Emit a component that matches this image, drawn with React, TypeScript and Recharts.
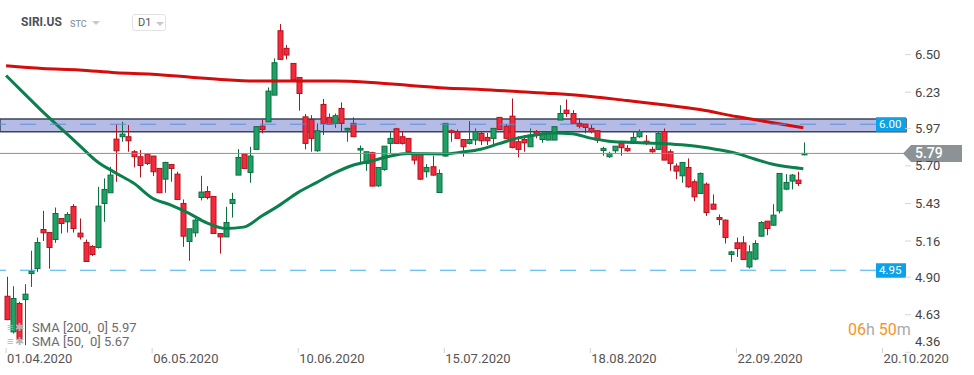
import * as React from "react";
import {
    ComposedChart,
    Bar,
    Line,
    XAxis,
    YAxis,
    ReferenceLine,
    ReferenceArea,
} from "recharts";

// daily candles, 01.04.2020 onwards (index 0 = 01.04.2020)
const opens = [
    4.763, 4.507, 4.711, 4.739, 4.926, 4.962, 5.243, 5.221, 5.171, 5.322,
    5.298, 5.408, 5.217, 5.149, 5.121, 5.114, 5.43, 5.507, 5.893, 5.91,
    5.91, 5.802, 5.766, 5.785, 5.771, 5.682, 5.605, 5.71, 5.641, 5.43,
    5.157, 5.219, 5.473, 5.516, 5.48, 5.214, 5.19, 5.43, 5.634, 5.785,
    5.653, 5.819, 5.986, 6.017, 6.209, 6.672, 6.545, 6.437, 6.336, 6.053,
    6.034, 5.809, 6.142, 6.049, 6.006, 6.113, 5.958, 6.006, 5.814, 5.718,
    5.795, 5.557, 5.675, 5.862, 5.967, 5.91, 5.898, 5.79, 5.79, 5.658,
    5.694, 5.509, 5.771, 5.953, 5.946, 5.89, 5.862, 5.886, 5.934, 5.905,
    5.898, 6.049, 5.986, 6.058, 5.874, 5.89, 5.838, 5.946, 5.89, 5.886,
    5.886, 6.03, 6.101, 6.077, 6.006, 6.001, 5.97, 5.953, 5.811, 5.766,
    5.809, 5.866, 5.826, 5.862, 5.91, 5.878, 5.819, 5.819, 5.946, 5.802,
    5.699, 5.629, 5.689, 5.586, 5.502, 5.569, 5.425, 5.329, 5.31, 5.063,
    5.147, 5.147, 4.974, 5.03, 5.195, 5.303, 5.274, 5.377, 5.533, 5.591,
    5.598, 5.78,
];
const closes = [
    4.595, 4.747, 4.459, 4.778, 4.943, 5.149, 5.219, 5.114, 5.358, 5.286,
    5.351, 5.25, 5.19, 5.013, 5.063, 5.411, 5.531, 5.634, 5.809, 5.929,
    5.881, 5.766, 5.703, 5.718, 5.658, 5.507, 5.725, 5.682, 5.459, 5.195,
    5.248, 5.31, 5.512, 5.473, 5.214, 5.19, 5.293, 5.459, 5.761, 5.682,
    5.771, 5.982, 5.962, 6.238, 6.442, 6.466, 6.497, 6.317, 6.221, 5.862,
    5.898, 5.953, 6.006, 5.998, 6.061, 6.006, 5.97, 5.91, 5.826, 5.802,
    5.555, 5.689, 5.842, 5.898, 5.862, 5.862, 5.802, 5.742, 5.605, 5.689,
    5.634, 5.646, 6.006, 5.941, 5.898, 5.838, 5.89, 5.946, 5.881, 5.881,
    5.97, 5.962, 5.898, 5.833, 5.819, 5.866, 5.922, 5.922, 5.934, 5.934,
    5.982, 6.077, 6.077, 6.006, 5.986, 5.977, 5.946, 5.886, 5.826, 5.79,
    5.842, 5.831, 5.809, 5.905, 5.946, 5.869, 5.802, 5.934, 5.742, 5.718,
    5.663, 5.725, 5.55, 5.478, 5.646, 5.365, 5.389, 5.315, 5.185, 5.082,
    5.106, 5.027, 5.082, 5.142, 5.293, 5.25, 5.346, 5.646, 5.581, 5.634,
    5.574, 5.79,
];
const highs = [
    4.903, 4.835, 4.723, 4.85, 5.09, 5.185, 5.377, 5.221, 5.401, 5.322,
    5.368, 5.425, 5.322, 5.171, 5.13, 5.55, 5.61, 5.694, 6.001, 6.018,
    5.994, 5.814, 5.814, 5.785, 5.771, 5.682, 5.73, 5.71, 5.658, 5.459,
    5.248, 5.322, 5.629, 5.555, 5.48, 5.214, 5.406, 5.507, 5.821, 5.785,
    5.838, 5.986, 6.034, 6.264, 6.473, 6.72, 6.569, 6.437, 6.336, 6.073,
    6.065, 6.006, 6.181, 6.077, 6.077, 6.157, 5.974, 6.049, 5.847, 5.802,
    5.802, 5.689, 5.842, 5.946, 5.974, 5.946, 5.898, 5.79, 5.79, 5.713,
    5.773, 5.675, 6.006, 5.962, 5.962, 5.89, 6.022, 5.97, 5.946, 5.938,
    5.97, 6.049, 6.001, 6.185, 5.914, 5.922, 5.97, 5.958, 5.946, 5.938,
    5.986, 6.137, 6.178, 6.101, 6.042, 6.001, 5.994, 5.958, 5.838, 5.802,
    5.842, 5.866, 5.85, 5.946, 5.962, 5.922, 5.838, 5.946, 5.97, 5.819,
    5.718, 5.725, 5.754, 5.603, 5.653, 5.581, 5.495, 5.351, 5.315, 5.09,
    5.185, 5.195, 5.13, 5.166, 5.303, 5.303, 5.425, 5.646, 5.641, 5.641,
    5.658, 5.869,
];
const lows = [
    4.591, 4.495, 4.435, 4.411, 4.83, 4.938, 5.161, 4.962, 5.147, 5.214,
    5.221, 5.221, 5.171, 5.01, 5.053, 5.106, 5.298, 5.507, 5.586, 5.874,
    5.802, 5.689, 5.617, 5.706, 5.627, 5.507, 5.507, 5.586, 5.459, 5.118,
    5.018, 5.19, 5.452, 5.459, 5.214, 5.07, 5.19, 5.329, 5.634, 5.682,
    5.579, 5.819, 5.934, 6.017, 6.209, 6.466, 6.466, 6.317, 6.097, 5.819,
    5.802, 5.802, 5.922, 5.998, 5.974, 5.95, 5.874, 5.91, 5.718, 5.665,
    5.555, 5.55, 5.665, 5.79, 5.862, 5.854, 5.802, 5.711, 5.598, 5.617,
    5.629, 5.509, 5.766, 5.874, 5.898, 5.766, 5.854, 5.85, 5.85, 5.85,
    5.854, 5.962, 5.898, 5.826, 5.761, 5.802, 5.838, 5.898, 5.866, 5.886,
    5.886, 6.03, 6.053, 6.006, 5.97, 5.934, 5.934, 5.866, 5.773, 5.758,
    5.79, 5.773, 5.802, 5.862, 5.902, 5.85, 5.795, 5.819, 5.742, 5.665,
    5.605, 5.579, 5.543, 5.447, 5.502, 5.341, 5.389, 5.274, 5.142, 5.01,
    5.046, 5.027, 4.962, 5.022, 5.19, 5.202, 5.269, 5.358, 5.526, 5.531,
    5.555, 5.775,
];

// moving averages read at selected candles: [index, value]
const sma200Points = [
    [0, 6.42], [6, 6.4], [12, 6.39], [18, 6.37], [24, 6.36], [30, 6.34],
    [36, 6.32], [42, 6.31], [48, 6.31], [54, 6.31], [60, 6.3], [66, 6.28],
    [72, 6.26], [78, 6.25], [84, 6.235], [90, 6.22], [96, 6.2], [102, 6.17],
    [108, 6.14], [114, 6.105], [120, 6.055], [126, 6.01], [131, 5.974],
];
const sma50Points = [
    [0, 6.35], [3, 6.22], [6, 6.09], [9, 5.97], [12, 5.85], [15, 5.73],
    [18, 5.65], [21, 5.575], [24, 5.47], [27, 5.42], [30, 5.36], [33, 5.29],
    [36, 5.25], [39, 5.26], [42, 5.34], [45, 5.42], [48, 5.51], [51, 5.58],
    [54, 5.65], [57, 5.705], [60, 5.735], [63, 5.77], [66, 5.79], [69, 5.787],
    [72, 5.786], [75, 5.8], [78, 5.82], [81, 5.86], [84, 5.9], [87, 5.922],
    [90, 5.936], [93, 5.932], [96, 5.9], [99, 5.878], [102, 5.87], [105, 5.865],
    [108, 5.862], [111, 5.852], [114, 5.838], [117, 5.817], [120, 5.79],
    [123, 5.75], [126, 5.712], [129, 5.69], [131, 5.68],
];

const xTickIdx = [0, 24, 48, 72, 96, 120, 144];
const xTickLabels = [
    "01.04.2020",
    "06.05.2020",
    "10.06.2020",
    "15.07.2020",
    "18.08.2020",
    "22.09.2020",
    "20.10.2020",
];
const yTicks = [6.5, 6.23, 5.97, 5.7, 5.43, 5.16, 4.9, 4.63, 4.36];

const resistance = 6.0;
const resistanceZone = [5.945, 6.037];
const support = 4.95;
const lastPrice = closes[closes.length - 1];

const data = opens.map((o, i) => ({
    i,
    open: o,
    close: closes[i],
    high: highs[i],
    low: lows[i],
    range: [lows[i], highs[i]],
}));
const sma200Data = sma200Points.map(([i, v]) => ({ i, v }));
const sma50Data = sma50Points.map(([i, v]) => ({ i, v }));

const UP_FILL = "#1fa166";
const UP_STROKE = "#0d6e40";
const DOWN_FILL = "#f22a3c";
const DOWN_STROKE = "#b3121f";

function Candle(props: any) {
    const { x, y, width, height, payload } = props;
    if (!payload || height == null) return null;
    const { open, close, high, low } = payload;
    const top = Math.min(y, y + height);
    const h = Math.abs(height);
    const k = high - low > 0 ? h / (high - low) : 0;
    const py = (v: number) => top + (high - v) * k;
    const up = close >= open;
    const cx = Math.round(x + width / 2) + 0.5;
    const bTop = py(Math.max(open, close));
    const bH = Math.max(1, py(Math.min(open, close)) - bTop);
    const stroke = up ? UP_STROKE : DOWN_STROKE;
    return (
        <g>
            <line x1={cx} x2={cx} y1={top} y2={top + h} stroke={stroke} strokeWidth={1} />
            <rect
                x={cx - 2.5}
                y={bTop}
                width={5}
                height={bH}
                fill={up ? UP_FILL : DOWN_FILL}
                stroke={stroke}
                strokeWidth={1}
            />
        </g>
    );
}

function XTick(props: any) {
    const { x, y, payload } = props;
    const idx = xTickIdx.indexOf(payload.value);
    return (
        <g>
            <line x1={x} x2={x} y1={y - 5} y2={y} stroke="#d0d0d0" />
            <text x={x + 1} y={y + 10} fontSize={13} fill="#555" textAnchor="start">
                {xTickLabels[idx]}
            </text>
        </g>
    );
}

function YTick(props: any) {
    const { x, y, payload } = props;
    return (
        <g>
            <line x1={x - 1} x2={x + 5} y1={y} y2={y} stroke="#d6d6d6" />
            <text x={x + 9} y={Math.min(y, 341) + 4.5} fontSize={13} fill="#444">
                {payload.value.toFixed(2)}
            </text>
        </g>
    );
}

function LevelTag(props: any) {
    const { viewBox, text } = props;
    if (!viewBox) return null;
    const right = viewBox.x + viewBox.width;
    return (
        <g>
            <rect x={right - 30} y={viewBox.y - 7} width={30} height={14.5} fill="#0aa3ea" />
            <text
                x={right - 27}
                y={viewBox.y + 4}
                fontSize={11.5}
                fill="#fff"
                textAnchor="start"
            >
                {text}
            </text>
        </g>
    );
}

function PriceTag(props: any) {
    const { viewBox, text } = props;
    if (!viewBox) return null;
    const left = viewBox.x + viewBox.width - 3;
    const y = viewBox.y;
    const pts = `${left},${y} ${left + 8},${y - 8.5} ${left + 59},${y - 8.5} ${left + 59},${y + 8.5} ${left + 8},${y + 8.5}`;
    return (
        <g>
            <polygon points={pts} fill="#8b9397" />
            <text x={left + 12} y={y + 5} fontSize={14} fontWeight={500} fill="#fff">
                {text}
            </text>
        </g>
    );
}

function Caret({ left, top }: { left: number; top: number }) {
    return (
        <div
            style={{
                position: "absolute",
                left,
                top,
                width: 0,
                height: 0,
                borderLeft: "4px solid transparent",
                borderRight: "4px solid transparent",
                borderTop: "4px solid #c8c8c8",
            }}
        />
    );
}

export default function App() {
    return (
        <div
            style={{
                position: "absolute",
                left: 0,
                top: 0,
                width: 974,
                height: 375,
                background: "#fff",
                fontFamily: "Roboto, sans-serif",
                overflow: "hidden",
            }}
        >
            <ComposedChart
                width={974}
                height={375}
                data={data}
                margin={{ top: 0, right: 0, bottom: 0, left: 0 }}
                style={{ fontFamily: "Roboto, sans-serif" }}
            >
                <XAxis
                    type="number"
                    dataKey="i"
                    domain={[-1, 147.87]}
                    ticks={xTickIdx}
                    interval={0}
                    allowDataOverflow
                    height={22}
                    tickSize={0}
                    tickMargin={0}
                    tickLine={false}
                    axisLine={false}
                    tick={(p: any) => <XTick {...p} />}
                />
                <YAxis
                    orientation="right"
                    domain={[4.355, 6.893]}
                    ticks={yTicks}
                    interval={0}
                    allowDataOverflow
                    width={68}
                    tickSize={0}
                    tickMargin={0}
                    tickLine={false}
                    axisLine={false}
                    tick={(p: any) => <YTick {...p} />}
                />
                <ReferenceLine
                    y={support}
                    stroke="#3fb0ec"
                    strokeWidth={1}
                    strokeDasharray="16 14"
                    label={<LevelTag text={support.toFixed(2)} />}
                />
                <Bar
                    dataKey="range"
                    barSize={5}
                    shape={(p: any) => <Candle {...p} />}
                    isAnimationActive={false}
                />
                <Line
                    data={sma200Data}
                    dataKey="v"
                    type="monotone"
                    stroke="#d40c0c"
                    strokeWidth={3}
                    dot={false}
                    activeDot={false}
                    isAnimationActive={false}
                />
                <Line
                    data={sma50Data}
                    dataKey="v"
                    type="monotone"
                    stroke="#0b7f4c"
                    strokeWidth={3}
                    dot={false}
                    activeDot={false}
                    isAnimationActive={false}
                />
                <ReferenceArea
                    y1={resistanceZone[0]}
                    y2={resistanceZone[1]}
                    fill="rgb(110,120,205)"
                    fillOpacity={0.5}
                    stroke="#3a4658"
                    strokeWidth={1.5}
                />
                <ReferenceLine
                    y={resistance}
                    stroke="#5b8fd8"
                    strokeWidth={1}
                    strokeDasharray="16 14"
                    label={<LevelTag text={resistance.toFixed(2)} />}
                />
                <ReferenceLine
                    y={lastPrice}
                    stroke="#909090"
                    strokeWidth={1}
                    label={<PriceTag text={lastPrice.toFixed(2)} />}
                />
            </ComposedChart>

            {/* header */}
            <div
                style={{
                    position: "absolute",
                    left: 21,
                    top: 15,
                    fontSize: 12,
                    fontWeight: 700,
                    color: "#4b5158",
                }}
            >
                SIRI.US
            </div>
            <div
                style={{
                    position: "absolute",
                    left: 70,
                    top: 19,
                    fontSize: 9,
                    fontWeight: 500,
                    color: "#8d9aa8",
                }}
            >
                STC
            </div>
            <Caret left={92} top={21} />
            <div
                style={{
                    position: "absolute",
                    left: 132,
                    top: 14,
                    width: 34,
                    height: 17,
                    border: "1px solid #e2e2e2",
                    borderRadius: 3,
                    boxSizing: "border-box",
                }}
            />
            <div
                style={{
                    position: "absolute",
                    left: 138,
                    top: 16,
                    fontSize: 11,
                    color: "#555",
                }}
            >
                D1
            </div>
            <Caret left={156} top={22} />

            {/* legend */}
            {[
                { label: "SMA [200,  0] 5.97", top: 320 },
                { label: "SMA [50,  0] 5.67", top: 334 },
            ].map((r) => (
                <div
                    key={r.label}
                    style={{
                        position: "absolute",
                        left: 7,
                        top: r.top,
                        fontSize: 13,
                        lineHeight: "16px",
                        color: "#6b6b6b",
                        whiteSpace: "pre",
                        display: "flex",
                        alignItems: "center",
                    }}
                >
                    <span
                        style={{
                            display: "inline-block",
                            width: 25,
                            color: "#b4b4b4",
                            fontSize: 11,
                            letterSpacing: 2,
                        }}
                    >
                        ≡✱
                    </span>
                    {r.label}
                </div>
            ))}

            {/* countdown */}
            <div
                style={{
                    position: "absolute",
                    left: 848,
                    top: 320,
                    fontSize: 16,
                    whiteSpace: "pre",
                }}
            >
                <span style={{ color: "#f7941d" }}>06</span>
                <span style={{ color: "#aaa" }}>h </span>
                <span style={{ color: "#f7941d" }}>50</span>
                <span style={{ color: "#aaa" }}>m</span>
            </div>
        </div>
    );
}
